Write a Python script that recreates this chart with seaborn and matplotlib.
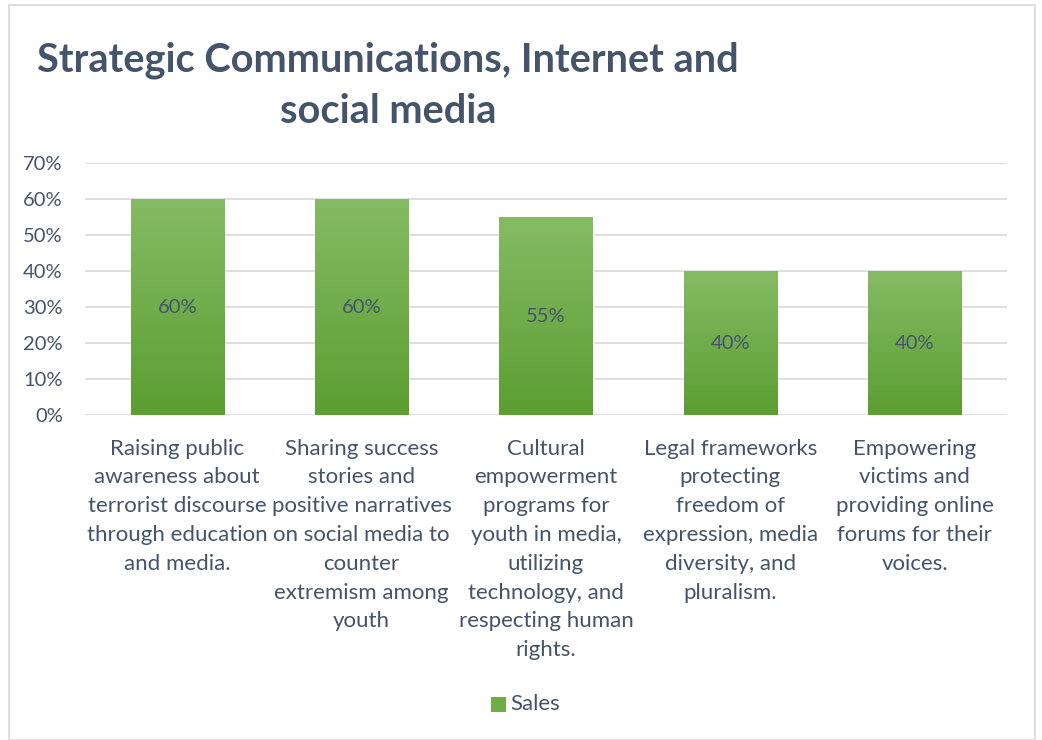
import numpy as np
import pandas as pd
import matplotlib
matplotlib.use("Agg")
import matplotlib.pyplot as plt
import seaborn as sns
from matplotlib.colors import LinearSegmentedColormap
from matplotlib.patches import Rectangle

categories = [
    "Raising public\nawareness about\nterrorist discourse\nthrough education\nand media.",
    "Sharing success\nstories and\npositive narratives\non social media to\ncounter\nextremism among\nyouth",
    "Cultural\nempowerment\nprograms for\nyouth in media,\nutilizing\ntechnology, and\nrespecting human\nrights.",
    "Legal frameworks\nprotecting\nfreedom of\nexpression, media\ndiversity, and\npluralism.",
    "Empowering\nvictims and\nproviding online\nforums for their\nvoices.",
]
sales = [0.60, 0.60, 0.55, 0.40, 0.40]
yticks = [0, 0.1, 0.2, 0.3, 0.4, 0.5, 0.6, 0.7]
ytick_labels = ["0%", "10%", "20%", "30%", "40%", "50%", "60%", "70%"]
title = "Strategic Communications, Internet and\nsocial media"
series_name = "Sales"

sns.set_theme(style="white")
plt.rcParams["font.family"] = ["Lato", "DejaVu Sans"]

text_col = "#44546A"
top_green = "#85BB65"
bot_green = "#5C9E31"
mid_green = "#70AD47"

df = pd.DataFrame({"cat": categories, "val": sales})

fig = plt.figure(figsize=(10.42, 7.4), dpi=100)
ax = fig.add_axes([0.0816, 0.4392, 0.9664 - 0.0816, 0.7797 - 0.4392])

sns.barplot(data=df, x="cat", y="val", color=mid_green, width=0.505,
            saturation=1, ax=ax, zorder=3)

ax.set_ylim(0, 0.7)
ax.set_xlim(-0.5, len(categories) - 0.5)
ax.set_yticks(yticks)
ax.set_yticklabels(ytick_labels, color=text_col, fontsize=14.5)
ax.yaxis.grid(True, color="#D9D9D9", linewidth=1.2, zorder=0)
ax.set_axisbelow(True)
for s in ax.spines.values():
    s.set_visible(False)
ax.tick_params(axis="both", length=0)
ax.tick_params(axis="y", pad=16)
ax.set_xlabel("")
ax.set_ylabel("")
ax.set_xticks(range(len(categories)))
ax.set_xticklabels(categories, color=text_col, fontsize=16, linespacing=1.55,
                   va="top")
ax.tick_params(axis="x", pad=17)

# gradient fill on bars
cmap = LinearSegmentedColormap.from_list("g", [bot_green, top_green])
grad = np.linspace(0, 1, 256).reshape(-1, 1)
for p in list(ax.patches):
    x0, y0 = p.get_x(), p.get_y()
    w, h = p.get_width(), p.get_height()
    im = ax.imshow(grad, extent=[x0, x0 + w, y0, y0 + h], origin="lower",
                   cmap=cmap, aspect="auto", zorder=4)
    im.set_clip_path(p)
    ax.text(x0 + w / 2, h / 2, f"{int(round(h * 100))}%", ha="center",
            va="center", color=text_col, fontsize=14.5, zorder=5)
ax.set_xlim(-0.5, len(categories) - 0.5)
ax.set_ylim(0, 0.7)

fig.text(388 / 1042, 1 - 86 / 740, title, ha="center", va="center",
         fontsize=28.6, fontweight="bold", color=text_col, linespacing=1.46)

# legend
fig.patches.append(Rectangle((491 / 1042, 1 - 712 / 740), 15 / 1042, 15 / 740,
                             transform=fig.transFigure, facecolor=mid_green,
                             edgecolor="none"))
fig.text(510 / 1042, 1 - 704 / 740, series_name, ha="left", va="center",
         fontsize=16, color=text_col)

# chart border
fig.patches.append(Rectangle((9 / 1042, 0.0), 1026 / 1042, 1 - 5 / 740,
                             transform=fig.transFigure, facecolor="none",
                             edgecolor="#D9D9D9", linewidth=1.2))

fig.savefig("out.png", dpi=100)
